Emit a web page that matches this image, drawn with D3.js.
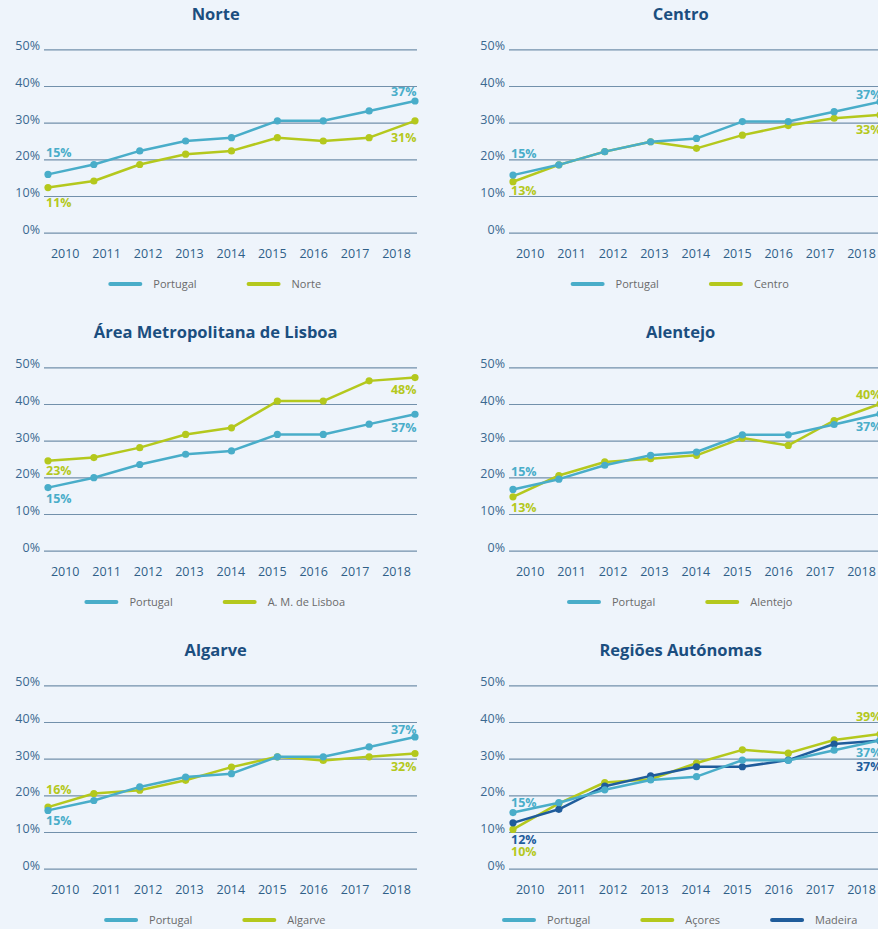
<!DOCTYPE html>
<html>
<head>
<meta charset="utf-8">
<script src="https://cdn.jsdelivr.net/npm/d3@7"></script>
<style>
  html, body { margin: 0; padding: 0; background: #eef4fb; }
  svg { display: block; font-family: "Open Sans", "Noto Sans", sans-serif; }
</style>
</head>
<body>
<script>
// years on the x axis
const years = [2010, 2011, 2012, 2013, 2014, 2015, 2016, 2017, 2018];
const yTicks = [0, 10, 20, 30, 40, 50];

// values (%)
const norte_portugal = [15.9, 18.6, 22.3, 25.0, 25.9, 30.5, 30.5, 33.2, 35.9];
const norte_regiao = [12.3, 14.1, 18.6, 21.4, 22.3, 25.9, 25.0, 25.9, 30.5];

const centro_portugal = [15.7, 18.5, 22.1, 24.8, 25.7, 30.3, 30.3, 33.0, 35.7];
const centro_regiao = [13.9, 18.5, 22.1, 24.8, 23.0, 26.6, 29.2, 31.2, 32.1];

const lisboa_portugal = [17.2, 19.9, 23.5, 26.3, 27.2, 31.7, 31.7, 34.5, 37.2];
const lisboa_regiao = [24.5, 25.4, 28.1, 31.7, 33.5, 40.8, 40.8, 46.3, 47.2];

const alentejo_portugal = [16.7, 19.5, 23.3, 26.0, 26.9, 31.6, 31.6, 34.4, 37.3];
const alentejo_regiao = [14.7, 20.5, 24.2, 25.1, 26.0, 30.7, 28.7, 35.5, 40.0];

const algarve_portugal = [15.9, 18.6, 22.3, 25.0, 25.9, 30.5, 30.5, 33.2, 35.9];
const algarve_regiao = [16.8, 20.5, 21.4, 24.1, 27.7, 30.5, 29.5, 30.5, 31.4];

const autonomas_portugal = [15.3, 18.0, 21.5, 24.2, 25.1, 29.6, 29.5, 32.3, 35.0];
const autonomas_acores = [10.7, 17.8, 23.5, 24.4, 28.8, 32.4, 31.5, 35.1, 36.7];
const autonomas_madeira = [12.5, 16.2, 22.5, 25.3, 27.8, 27.8, 29.6, 34.0, 34.9];

const colors = { portugal: "#49adc9", regiao: "#b4c81d", madeira: "#1f5c9b" };

// panels: series drawn in order, Portugal last so it sits on top
const panels = [
  { title: "Norte", col: 0, row: 0,
    series: [
      { name: "Portugal", values: norte_portugal, color: colors.portugal },
      { name: "Norte", values: norte_regiao, color: colors.regiao }],
    labels: [
      { s: 0, at: "start", text: "15%", dy: -17 }, { s: 1, at: "start", text: "11%", dy: 19.5 },
      { s: 0, at: "end", text: "37%", dy: -5 }, { s: 1, at: "end", text: "31%", dy: 21.5 }] },
  { title: "Centro", col: 1, row: 0,
    series: [
      { name: "Portugal", values: centro_portugal, color: colors.portugal },
      { name: "Centro", values: centro_regiao, color: colors.regiao }],
    labels: [
      { s: 0, at: "start", text: "15%", dy: -17 }, { s: 1, at: "start", text: "13%", dy: 13.5 },
      { s: 0, at: "end", text: "37%", dy: -3 }, { s: 1, at: "end", text: "33%", dy: 19.5 }] },
  { title: "Área Metropolitana de Lisboa", col: 0, row: 1,
    series: [
      { name: "Portugal", values: lisboa_portugal, color: colors.portugal },
      { name: "A. M. de Lisboa", values: lisboa_regiao, color: colors.regiao }],
    labels: [
      { s: 0, at: "start", text: "15%", dy: 15.5 }, { s: 1, at: "start", text: "23%", dy: 14.5 },
      { s: 0, at: "end", text: "37%", dy: 17.5 }, { s: 1, at: "end", text: "48%", dy: 16 }] },
  { title: "Alentejo", col: 1, row: 1,
    series: [
      { name: "Portugal", values: alentejo_portugal, color: colors.portugal },
      { name: "Alentejo", values: alentejo_regiao, color: colors.regiao }],
    labels: [
      { s: 0, at: "start", text: "15%", dy: -13.5 }, { s: 1, at: "start", text: "13%", dy: 15 },
      { s: 0, at: "end", text: "37%", dy: 17.5 }, { s: 1, at: "end", text: "40%", dy: -5 }] },
  { title: "Algarve", col: 0, row: 2,
    series: [
      { name: "Portugal", values: algarve_portugal, color: colors.portugal },
      { name: "Algarve", values: algarve_regiao, color: colors.regiao }],
    labels: [
      { s: 0, at: "start", text: "15%", dy: 15 }, { s: 1, at: "start", text: "16%", dy: -13.5 },
      { s: 0, at: "end", text: "37%", dy: -3.5 }, { s: 1, at: "end", text: "32%", dy: 17 }] },
  { title: "Regiões Autónomas", col: 1, row: 2,
    series: [
      { name: "Portugal", values: autonomas_portugal, color: colors.portugal },
      { name: "Açores", values: autonomas_acores, color: colors.regiao },
      { name: "Madeira", values: autonomas_madeira, color: colors.madeira }],
    labels: [
      { s: 0, at: "start", text: "15%", dy: -5.5 }, { s: 2, at: "start", text: "12%", dy: 21.5 },
      { s: 1, at: "start", text: "10%", dy: 26.5 },
      { s: 1, at: "end", text: "39%", dy: -13.5 }, { s: 0, at: "end", text: "37%", dy: 17 },
      { s: 2, at: "end", text: "37%", dy: 30 }] }
];

const width = 878, height = 929;
const svg = d3.select("body").append("svg")
    .attr("width", width)
    .attr("height", height);

// scales shared by every panel (panel-local coordinates)
const x = d3.scalePoint().domain(years).range([48, 415]);
const xLabels = d3.scalePoint().domain(years).range([64.7, 396]);
const y = d3.scaleLinear().domain([0, 50]).range([232.7, 49.3]);
const gridLeft = 44, gridRight = 417, centerX = 215.7;

const line = d3.line()
    .x((d, i) => x(years[i]))
    .y(d => y(d));

panels.forEach(function (p) {
    const g = svg.append("g")
        .attr("transform", `translate(${p.col * 465},${p.row * 318})`);

    // title
    g.append("text")
        .attr("x", centerX)
        .attr("y", 20)
        .attr("text-anchor", "middle")
        .style("font-size", "16.5px")
        .style("font-weight", "700")
        .style("fill", "#1b4e7f")
        .text(p.title);

    // y grid + labels
    const yAxis = g.append("g")
        .attr("transform", `translate(${gridLeft},0)`)
        .call(d3.axisLeft(y)
            .tickValues(yTicks)
            .tickSize(-(gridRight - gridLeft))
            .tickPadding(4)
            .tickFormat(d => d + "%"));
    yAxis.select(".domain").remove();
    yAxis.selectAll(".tick line")
        .attr("stroke", "#7290ab")
        .attr("stroke-width", 1.2);
    yAxis.selectAll(".tick text")
        .attr("dy", "0.03em")
        .style("font-size", "12.5px")
        .style("font-family", "'Open Sans', sans-serif")
        .style("fill", "#3a6890");

    // year labels
    const xAxis = g.append("g")
        .attr("transform", "translate(0,249)")
        .call(d3.axisBottom(xLabels).tickSize(0).tickPadding(0));
    xAxis.select(".domain").remove();
    xAxis.selectAll(".tick text")
        .style("font-size", "12.5px")
        .style("font-family", "'Open Sans', sans-serif")
        .style("fill", "#2f5f88");

    // series: regions first, Portugal on top
    const order = p.series.map((s, i) => i).slice(1).concat([0]);
    order.forEach(function (si) {
        const s = p.series[si];
        g.append("path")
            .datum(s.values)
            .attr("d", line)
            .attr("fill", "none")
            .attr("stroke", s.color)
            .attr("stroke-width", 2.5)
            .attr("stroke-linejoin", "round");
        g.selectAll(null)
            .data(s.values)
            .enter()
            .append("circle")
            .attr("cx", (d, i) => x(years[i]))
            .attr("cy", d => y(d))
            .attr("r", 3.6)
            .attr("fill", s.color);
    });

    // value labels at first and last point
    p.labels.forEach(function (l) {
        const s = p.series[l.s];
        const idx = l.at === "start" ? 0 : years.length - 1;
        g.append("text")
            .attr("x", x(years[idx]) + (l.at === "start" ? -2 : 1.5))
            .attr("y", y(s.values[idx]) + l.dy)
            .attr("text-anchor", l.at === "start" ? "start" : "end")
            .style("font-size", "12.5px")
            .style("font-weight", "700")
            .style("fill", s.color)
            .text(l.text);
    });

    // legend, centred under the panel
    const legend = g.append("g").attr("transform", "translate(0,284)");
    const items = legend.selectAll("g")
        .data(p.series)
        .enter()
        .append("g");
    items.append("line")
        .attr("x1", 0).attr("x2", 30)
        .attr("y1", 0).attr("y2", 0)
        .attr("stroke", d => d.color)
        .attr("stroke-width", 4)
        .attr("stroke-linecap", "round");
    items.append("text")
        .attr("x", 43)
        .attr("y", 4)
        .style("font-size", "11px")
        .style("fill", "#6a6a6a")
        .text(d => d.name);

    let offset = 0;
    const widths = [];
    items.each(function () {
        const w = 43 + d3.select(this).select("text").node().getComputedTextLength();
        widths.push(w);
    });
    const total = d3.sum(widths) + 52 * (widths.length - 1);
    const start = centerX - total / 2;
    items.attr("transform", function (d, i) {
        const t = `translate(${start + offset},0)`;
        offset += widths[i] + 52;
        return t;
    });
});
</script>
</body>
</html>
